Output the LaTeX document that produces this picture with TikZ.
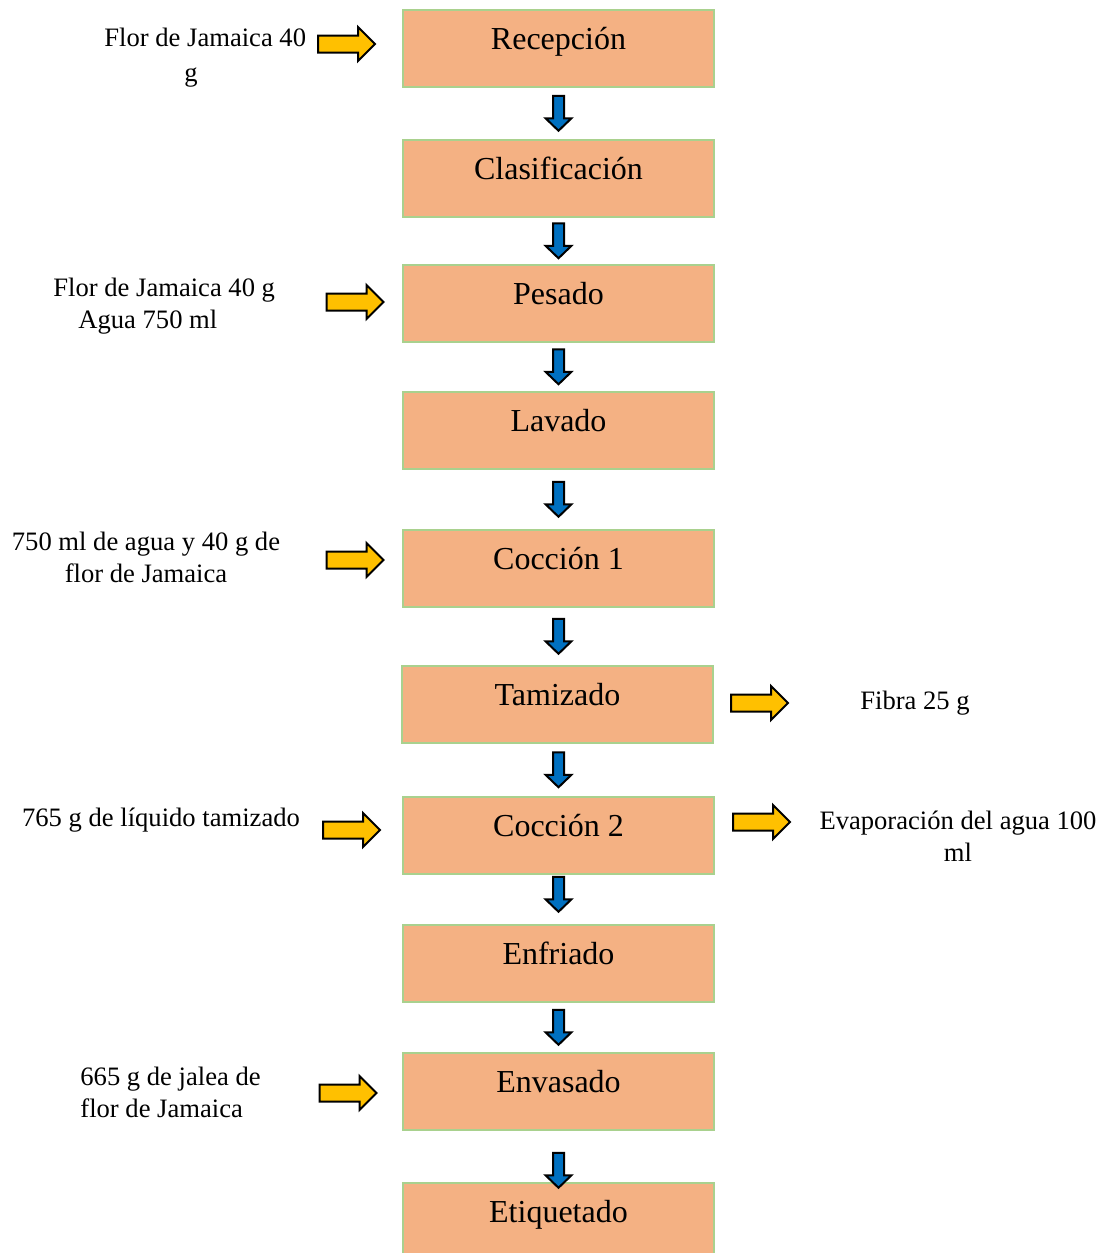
\documentclass[tikz,border=0pt]{standalone}
\usepackage{fontspec}
\setmainfont{Liberation Serif}
\usetikzlibrary{positioning, calc}

\definecolor{naranja}{HTML}{F4B183}
\definecolor{verdeborde}{HTML}{A9D18E}
\definecolor{azulflecha}{HTML}{0070C0}
\definecolor{amarillo}{HTML}{FFC000}

\tikzset{
  etapa/.style={rectangle, fill=naranja, draw=verdeborde, line width=0.75pt,
    minimum width=155.5pt, inner sep=0pt, text height=20pt, text depth=18.5pt,
    anchor=north, font=\fontsize{16}{19}\selectfont},
  dato/.style={align=center, inner sep=0pt, font=\fontsize{13.3}{16}\selectfont},
  % Flecha azul hacia abajo (entre etapas)
  pics/bajar/.style={code={
    \draw[fill=azulflecha, line width=1pt] (-5.5,-17.5) -- (5.5,-17.5) -- (5.5,5)
      -- (13,5) -- (0,17.5) -- (-13,5) -- (-5.5,5) -- cycle;}},
  % Flecha amarilla hacia la derecha (entradas y salidas)
  pics/derecha/.style={code={
    \draw[fill=amarillo, line width=1pt] (-28.5,-8.5) -- (11.5,-8.5) -- (11.5,-17)
      -- (28.5,0) -- (11.5,17) -- (11.5,8.5) -- (-28.5,8.5) -- cycle;}}
}

\begin{document}
\begin{tikzpicture}[x=0.5pt, y=-0.5pt]

    \useasboundingbox (0,0) rectangle (1105,1253);

    \def\xEtapa{558.5}  % eje de las etapas

    % --- Etapas del proceso ---
    \node[etapa] (recepcion)     at (\xEtapa,9)    {Recepción};
    \node[etapa] (clasificacion) at (\xEtapa,139)  {Clasificación};
    \node[etapa] (pesado)        at (\xEtapa,264)  {Pesado};
    \node[etapa] (lavado)        at (\xEtapa,391)  {Lavado};
    \node[etapa] (coccion1)      at (\xEtapa,529)  {Cocción 1};
    \node[etapa] (tamizado)      at (\xEtapa-1,665) {Tamizado};
    \node[etapa] (coccion2)      at (\xEtapa,796)  {Cocción 2};
    \node[etapa] (enfriado)      at (\xEtapa,924)  {Enfriado};
    \node[etapa] (envasado)      at (\xEtapa,1052) {Envasado};
    \node[etapa] (etiquetado)    at (\xEtapa,1182) {Etiquetado};

    % --- Flechas entre etapas ---
    \pic at ($(recepcion.south)!0.5!(clasificacion.north)$) {bajar};
    \pic at ($(clasificacion.south)!0.5!(pesado.north)$) {bajar};
    \pic at ($(pesado.south)!0.5!(lavado.north)$) {bajar};
    \pic at ($(lavado.south)!0.5!(coccion1.north)$) {bajar};
    \pic at ($(coccion1.south)!0.5!(tamizado.north)+(0.5,0)$) {bajar};
    \pic at ($(tamizado.south)!0.5!(coccion2.north)+(0.5,0)$) {bajar};
    \pic at ($(coccion2.south)!0.5!(enfriado.north)+(0,-5)$) {bajar};
    \pic at ($(enfriado.south)!0.5!(envasado.north)$) {bajar};
    \pic at ($(envasado.south)!0.5!(etiquetado.north)+(0,14)$) {bajar};

    % --- Entradas (izquierda) ---
    \node[dato, align=left, anchor=west] (entrada1) at (104,58) {Flor de Jamaica 40\\[1.5pt]\hspace*{40pt}g};
    \node[dato, align=left, anchor=west] (entrada2) at (53,306) {Flor de Jamaica 40 g\\\hspace*{12.5pt}Agua 750 ml};
    \node[dato] (entrada3) at (146,557) {750 ml de agua y 40 g de\\flor de Jamaica};
    \node[dato] (entrada4) at (161,820) {765 g de líquido tamizado};
    \node[dato, align=left, anchor=west] (entrada5) at (80,1092) {665 g de jalea de\\flor de Jamaica};

    \pic at (346.5,44)  {derecha};
    \pic at (355,302)   {derecha};
    \pic at (355,560)   {derecha};
    \pic at (351.5,830) {derecha};
    \pic at (348,1093)  {derecha};

    % --- Salidas (derecha) ---
    \node[dato] (salida1) at (915,703) {Fibra 25 g};
    \node[dato] (salida2) at (958,836) {Evaporación del agua 100\\ml};

    \pic at (759.5,703) {derecha};
    \pic at (761.5,822) {derecha};

\end{tikzpicture}
\end{document}
